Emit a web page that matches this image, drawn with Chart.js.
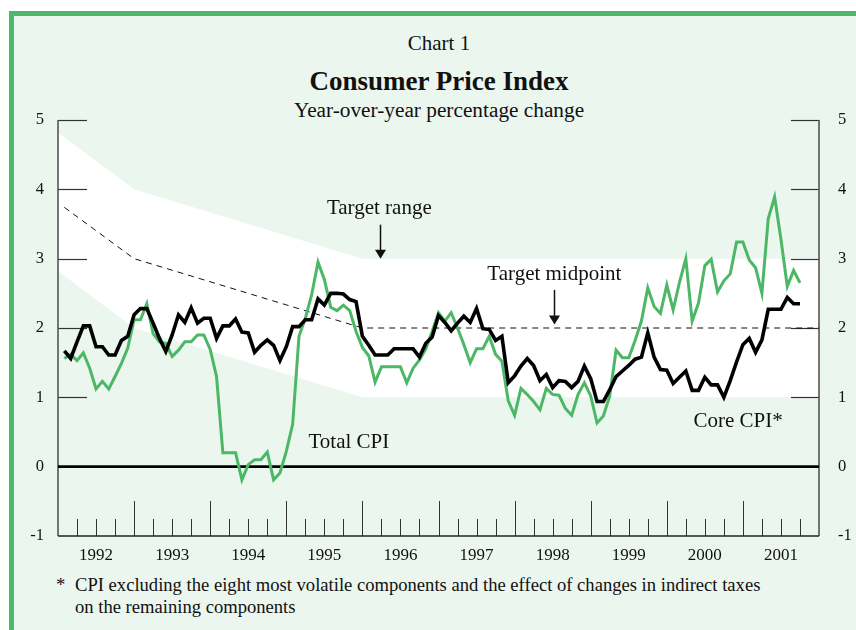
<!DOCTYPE html>
<html><head><meta charset="utf-8">
<script src="https://cdn.jsdelivr.net/npm/chart.js@4/dist/chart.umd.min.js"></script>
<style>
html,body{margin:0;padding:0;background:#fff;width:856px;height:630px;overflow:hidden}
#frame{position:absolute;left:9px;top:11px;right:0;bottom:0;background:#ebf6ef;border-left:5px solid #4cb86a;border-top:5px solid #4cb86a}
#c{position:absolute;left:0;top:0}
.t{position:absolute;font-family:"Liberation Serif","Times New Roman",serif;color:#111;white-space:nowrap}
.c{left:439px;transform:translateX(-50%)}
#t1{font-size:21px;line-height:21px;top:33px}
#t2{font-size:27px;line-height:27px;top:68px;font-weight:bold}
#t3{font-size:21.3px;line-height:22px;top:99px}
.fn{font-size:18.6px;line-height:19px}
</style></head><body>
<div id="frame"></div>
<div class="t c" id="t1">Chart 1</div>
<div class="t c" id="t2">Consumer Price Index</div>
<div class="t c" id="t3">Year-over-year percentage change</div>
<div class="t fn" style="left:56px;top:575px">*</div>
<div class="t fn" style="left:75px;top:575px">CPI excluding the eight most volatile components and the effect of changes in indirect taxes</div>
<div class="t fn" style="left:75px;top:597px">on the remaining components</div>
<canvas id="c" width="856" height="630"></canvas>
<script>
// ---- data (monthly, Jan 1992 - Sep 2001) ----
const months = [];
for (let yr = 1992; yr <= 2001; yr++) for (let mo = 1; mo <= 12; mo++) months.push(yr + '-' + String(mo).padStart(2, '0'));
months.length = 117;

const totalCPI = [
1.56,1.62,1.53,1.64,1.42,1.12,1.23,1.12,1.30,1.49,1.71,2.12,
2.12,2.35,1.92,1.80,1.78,1.59,1.68,1.80,1.80,1.90,1.90,1.69,
1.30,0.20,0.20,0.20,-0.19,0.03,0.10,0.10,0.21,-0.19,-0.09,0.22,
0.61,1.88,2.14,2.48,2.95,2.70,2.30,2.25,2.33,2.25,1.95,1.72,
1.60,1.22,1.44,1.44,1.44,1.44,1.21,1.42,1.54,1.70,1.95,2.22,
2.10,2.22,2.00,1.76,1.50,1.70,1.70,1.88,1.62,1.52,0.95,0.74,
1.13,1.04,0.94,0.82,1.13,1.04,1.03,0.84,0.74,1.04,1.21,1.02,
0.63,0.73,1.02,1.68,1.57,1.57,1.82,2.10,2.58,2.31,2.21,2.62,
2.26,2.66,3.00,2.10,2.36,2.90,2.99,2.52,2.68,2.78,3.24,3.24,
2.98,2.87,2.50,3.58,3.89,3.28,2.60,2.83,2.65];

const coreCPI = [
1.67,1.56,1.80,2.03,2.03,1.73,1.73,1.61,1.61,1.82,1.88,2.19,
2.28,2.28,2.07,1.85,1.66,1.90,2.19,2.08,2.29,2.07,2.14,2.14,
1.85,2.03,2.03,2.13,1.94,1.93,1.65,1.75,1.83,1.75,1.53,1.73,
2.02,2.02,2.12,2.12,2.42,2.33,2.50,2.50,2.49,2.41,2.38,1.88,
1.75,1.61,1.61,1.61,1.70,1.70,1.70,1.70,1.58,1.78,1.87,2.18,
2.08,1.96,2.07,2.17,2.08,2.28,1.99,1.98,1.82,1.88,1.21,1.31,
1.45,1.56,1.46,1.24,1.33,1.14,1.24,1.23,1.14,1.23,1.45,1.27,
0.94,0.94,1.11,1.30,1.38,1.46,1.55,1.58,1.93,1.58,1.40,1.39,
1.20,1.29,1.38,1.10,1.10,1.29,1.18,1.18,1.00,1.24,1.51,1.76,
1.85,1.65,1.83,2.27,2.27,2.27,2.44,2.35,2.35];

// target range (months since Jan 1992)
const bandMonths = [0, 12, 48, 120];
const bandUpper  = [4.82, 4.0, 3.0, 3.0];
const bandLower  = [2.82, 2.0, 1.0, 1.0];
const midMonths  = [1, 12, 48, 120];
const midpoint   = [3.74, 3.0, 2.0, 2.0];

const yearLabels = ['1992','1993','1994','1995','1996','1997','1998','1999','2000','2001'];
const yTicks = [-1, 0, 1, 2, 3, 4, 5];

// ---- build ----
const serif = 'Liberation Serif';
Chart.defaults.font.family = serif;
Chart.defaults.color = '#111';
const pts = (xs, ys) => ys.map((v, i) => ({x: xs[i], y: v}));
const monthX = months.map((m, i) => i + 1);

const annotations = {
  labels: [
    {text: 'Target range', x: 42.4, y: 3.64},
    {text: 'Target midpoint', x: 67.7, y: 2.69},
    {text: 'Total CPI', x: 39.5, y: 0.265},
    {text: 'Core CPI*', x: 100.2, y: 0.577}
  ],
  arrows: [
    {x: 50.8, from: 3.49, to: 3.0},
    {x: 78.2, from: 2.55, to: 2.05}
  ]
};

const deco = {
  id: 'deco',
  afterDatasetDraw(chart, args) {
    if (args.index !== 1) return;
    const {ctx, chartArea: a, scales: {x, y}} = chart;
    const L = (x1, y1, x2, y2) => { ctx.beginPath(); ctx.moveTo(x1, y1); ctx.lineTo(x2, y2); ctx.stroke(); };
    ctx.save();
    ctx.lineCap = 'butt';
    ctx.strokeStyle = '#333'; ctx.lineWidth = 1.2;
    yTicks.filter(v => v > 0).forEach(v => {
      const py = Math.round(y.getPixelForValue(v)) + 0.5;
      L(a.left, py, a.left + 29, py);
      L(a.right - 28, py, a.right, py);
    });
    ctx.lineWidth = 1;
    for (let m = 3; m < 120; m += 3) {
      const px = Math.round(x.getPixelForValue(m)) + 0.5;
      const len = (m % 12 === 0) ? 35 : 17;
      L(px, a.bottom, px, a.bottom - len);
    }
    ctx.strokeStyle = '#555'; ctx.lineWidth = 1.6;
    L(a.left, a.top, a.left, a.bottom);
    L(a.right, a.top, a.right, a.bottom);
    ctx.strokeStyle = '#222'; ctx.lineWidth = 1.5;
    L(a.left, a.bottom, a.right, a.bottom);
    ctx.strokeStyle = '#000'; ctx.lineWidth = 2.6;
    const y0 = y.getPixelForValue(0);
    L(a.left, y0, a.right, y0);
    ctx.restore();
  },
  afterDraw(chart) {
    const {ctx, scales: {x, y}} = chart;
    ctx.save();
    ctx.fillStyle = '#111';
    ctx.font = '21px "' + serif + '"';
    ctx.textBaseline = 'alphabetic';
    ctx.textAlign = 'left';
    annotations.labels.forEach(l => ctx.fillText(l.text, x.getPixelForValue(l.x), y.getPixelForValue(l.y)));
    ctx.strokeStyle = '#111'; ctx.lineWidth = 1.5;
    annotations.arrows.forEach(ar => {
      const px = Math.round(x.getPixelForValue(ar.x)) + 0.5;
      const y1 = y.getPixelForValue(ar.from), y2 = y.getPixelForValue(ar.to);
      ctx.beginPath(); ctx.moveTo(px, y1); ctx.lineTo(px, y2 - 8); ctx.stroke();
      ctx.beginPath(); ctx.moveTo(px - 5.5, y2 - 9); ctx.lineTo(px + 5.5, y2 - 9); ctx.lineTo(px, y2); ctx.closePath(); ctx.fill();
    });
    ctx.restore();
  }
};

const tickFont = {family: serif, size: 17};
const yFont = {family: serif, size: 16.5};

new Chart(document.getElementById('c'), {
  type: 'line',
  data: {
    datasets: [
      {label: 'Target range upper', data: pts(bandMonths, bandUpper), borderWidth: 0, pointRadius: 0, fill: '+1', backgroundColor: '#ffffff', borderColor: 'rgba(0,0,0,0)', order: 10},
      {label: 'Target range lower', data: pts(bandMonths, bandLower), borderWidth: 0, pointRadius: 0, fill: false, borderColor: 'rgba(0,0,0,0)', order: 9},
      {label: 'Target midpoint', data: pts(midMonths, midpoint), borderWidth: 1, borderDash: [6, 5], borderColor: '#111', pointRadius: 0, fill: false, order: 3},
      {label: 'Total CPI', data: pts(monthX, totalCPI), borderWidth: 3, borderColor: '#4cb866', pointRadius: 0, fill: false, borderJoinStyle: 'miter', order: 2},
      {label: 'Core CPI*', data: pts(monthX, coreCPI), borderWidth: 3.6, borderColor: '#000', pointRadius: 0, fill: false, borderJoinStyle: 'miter', order: 1}
    ]
  },
  options: {
    responsive: false,
    devicePixelRatio: 1,
    animation: false,
    layout: {padding: {top: 120, left: 0, right: 0, bottom: 0}},
    plugins: {legend: {display: false}, tooltip: {enabled: false}, title: {display: false}},
    elements: {line: {tension: 0}},
    scales: {
      x: {
        type: 'linear', min: 0, max: 120, position: 'bottom',
        grid: {display: false, drawTicks: false}, border: {display: false},
        afterBuildTicks: s => { s.ticks = yearLabels.map((l, i) => ({value: 6 + 12 * i})); },
        afterFit: s => { s.height = 94; },
        ticks: {autoSkip: false, maxRotation: 0, padding: 9, color: '#111', font: tickFont,
                callback: (v, i) => yearLabels[i]}
      },
      y: {
        type: 'linear', min: -1, max: 5, position: 'left',
        grid: {display: false, drawTicks: false}, border: {display: false},
        afterBuildTicks: s => { s.ticks = yTicks.map(v => ({value: v})); },
        afterFit: s => { s.width = 58; },
        ticks: {padding: 14, color: '#111', font: yFont, callback: v => String(v)}
      },
      y2: {
        type: 'linear', min: -1, max: 5, position: 'right',
        grid: {display: false, drawTicks: false}, border: {display: false},
        afterBuildTicks: s => { s.ticks = yTicks.map(v => ({value: v})); },
        afterFit: s => { s.width = 37; },
        ticks: {padding: 19, color: '#111', font: yFont, callback: v => String(v)}
      }
    }
  },
  plugins: [deco]
});
</script>
</body></html>
